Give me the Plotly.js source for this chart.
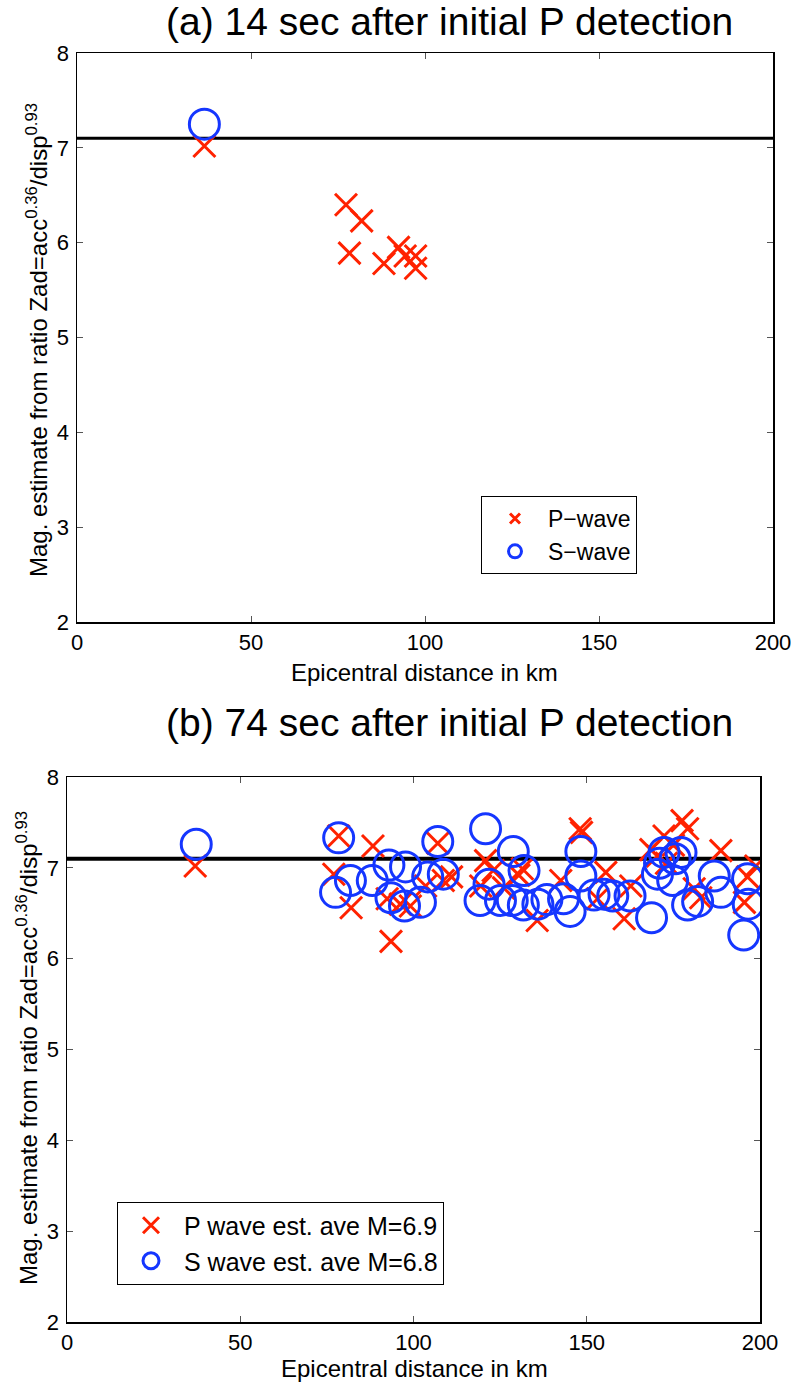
<!DOCTYPE html>
<html>
<head>
<meta charset="utf-8">
<script src="https://cdn.plot.ly/plotly-3.0.1.min.js"></script>
<style>html,body{margin:0;padding:0;background:#fff;}#chart{width:796px;height:1383px;}</style>
</head>
<body>
<div id="chart"></div>
<script>
// ---- Data ----
const titleA = "(a) 14 sec after initial P detection";
const titleB = "(b) 74 sec after initial P detection";
const xTitle = "Epicentral distance in km";
const yTitle = "Mag. estimate from ratio Zad=acc<sup>0.36</sup>/disp<sup>0.93</sup>";
const xTickVals = [0, 50, 100, 150, 200];
const yTickVals = [2, 3, 4, 5, 6, 7, 8];
const refMag = 7.1;
const refDist = [0, 200];

// Panel (a)
const pA_dist = [36.6, 77.3, 81.8, 78.3, 88.2, 92.4, 94.3, 97.3, 97.3];
const pA_mag  = [7.02, 6.40, 6.23, 5.89, 5.78, 5.95, 5.86, 5.86, 5.73];
const sA_dist = [36.6];
const sA_mag  = [7.25];

// Panel (b)
const pB_dist = [37.0, 78.4, 77.0, 82.0, 88.3, 93.5, 92.4, 96.2, 99.1, 103.5, 107.0, 108.6,
                 119.4, 120.8, 123.0, 130.4, 131.4, 135.7, 142.5, 148.1, 148.5, 153.1, 155.5,
                 160.8, 162.7, 168.5, 170.4, 172.3, 175.0, 177.5, 179.1, 181.0, 182.9, 188.7,
                 196.4, 198.8, 195.5, 173.0, 126.0, 111.0];
const pB_mag  = [7.02, 7.35, 6.93, 6.56, 7.24, 6.19, 6.66, 6.60, 6.58, 6.80, 7.27, 6.86,
                 6.80, 7.08, 6.97, 6.92, 6.99, 6.42, 6.86, 7.43, 7.39, 6.66, 6.95,
                 6.44, 6.80, 7.20, 7.13, 7.35, 7.25, 7.52, 7.43, 6.77, 6.67, 7.19,
                 6.90, 7.02, 6.62, 7.05, 6.78, 6.90];
const sB_dist = [37.3, 78.4, 107.0, 120.8, 128.8, 131.9, 92.9, 97.7, 81.8, 88.1, 77.5, 104.1,
                 108.6, 93.5, 97.4, 102.0, 121.8, 119.2, 125.1, 128.5, 131.7, 135.9, 138.5,
                 143.3, 145.2, 148.3, 148.3, 152.1, 155.0, 157.5, 162.5, 168.7, 170.4, 172.3,
                 177.2, 174.8, 179.1, 182.0, 186.8, 188.7, 196.4, 196.6, 195.3, 171.0, 175.5];
const sB_mag  = [7.26, 7.33, 7.29, 7.43, 7.18, 6.97, 7.03, 7.01, 6.86, 6.86, 6.73, 6.90,
                 6.93, 6.67, 6.58, 6.62, 6.82, 6.64, 6.64, 6.64, 6.59, 6.60, 6.65,
                 6.66, 6.52, 7.18, 6.91, 6.70, 6.71, 6.69, 6.69, 6.45, 6.93, 7.17,
                 7.17, 6.86, 6.59, 6.63, 6.91, 6.73, 6.88, 6.60, 6.26, 7.05, 7.10];

const legA = ["P\u2212wave", "S\u2212wave"];
const legB = ["P wave est. ave M=6.9", "S wave est. ave M=6.8"];

// ---- Styling ----
const W = 796, H = 1383;
const RED = "#ff2200", BLUE = "#1536ff";
const FONT = "Liberation Sans, Arial, Helvetica, sans-serif";
const px = v => v / W;
const py = v => 1 - v / H;

function axis(domain, anchor, isX, ticks) {
  return {
    domain: domain, anchor: anchor,
    range: isX ? [0, 200] : [2, 8],
    tickvals: ticks, ticktext: ticks.map(String),
    ticks: "inside", ticklen: 6, tickwidth: 1, tickcolor: "#555",
    showline: true, linecolor: "#000", linewidth: 1.5, mirror: "ticks",
    showgrid: false, zeroline: false,
    tickfont: {family: FONT, size: 22, color: "#000"},
    ticklabelstandoff: isX ? 0 : 2,
    fixedrange: true
  };
}

const crossMarker = {symbol: "x-thin-open", size: 22, color: RED, line: {width: 3, color: RED}};
const circMarker = {symbol: "circle-open", size: 30, color: BLUE, line: {width: 3, color: BLUE}};

const traces = [
  // Panel (a)
  {x: refDist, y: [refMag, refMag], xaxis: "x", yaxis: "y", mode: "lines", line: {color: "#000", width: 3}, showlegend: false, hoverinfo: "skip"},
  {x: pA_dist, y: pA_mag, xaxis: "x", yaxis: "y", mode: "markers", marker: crossMarker, showlegend: false},
  {x: sA_dist, y: sA_mag, xaxis: "x", yaxis: "y", mode: "markers", marker: circMarker, showlegend: false},
  {x: [null], y: [null], xaxis: "x", yaxis: "y", mode: "markers", name: legA[0], legend: "legend",
   marker: {symbol: "x-thin-open", size: 10, color: RED, line: {width: 3, color: RED}}},
  {x: [null], y: [null], xaxis: "x", yaxis: "y", mode: "markers", name: legA[1], legend: "legend",
   marker: {symbol: "circle-open", size: 13, color: BLUE, line: {width: 3, color: BLUE}}},
  // Panel (b)
  {x: refDist, y: [refMag, refMag], xaxis: "x2", yaxis: "y2", mode: "lines", line: {color: "#000", width: 4}, showlegend: false, hoverinfo: "skip"},
  {x: pB_dist, y: pB_mag, xaxis: "x2", yaxis: "y2", mode: "markers", marker: crossMarker, showlegend: false},
  {x: sB_dist, y: sB_mag, xaxis: "x2", yaxis: "y2", mode: "markers", marker: circMarker, showlegend: false},
  {x: [null], y: [null], xaxis: "x2", yaxis: "y2", mode: "markers", name: legB[0], legend: "legend2",
   marker: {symbol: "x-thin-open", size: 16, color: RED, line: {width: 3, color: RED}}},
  {x: [null], y: [null], xaxis: "x2", yaxis: "y2", mode: "markers", name: legB[1], legend: "legend2",
   marker: {symbol: "circle-open", size: 16, color: BLUE, line: {width: 3, color: BLUE}}}
];

function ann(text, x, y, size, angle) {
  return {text: text, x: px(x), y: py(y), xref: "paper", yref: "paper",
          xanchor: "center", yanchor: "middle", showarrow: false, textangle: angle || 0,
          font: {family: FONT, size: size, color: "#000"}};
}

const layout = {
  width: W, height: H,
  margin: {l: 0, r: 0, t: 0, b: 0},
  paper_bgcolor: "#fff", plot_bgcolor: "#fff",
  font: {family: FONT, color: "#000"},
  xaxis: axis([px(77), px(773)], "y", true, xTickVals),
  yaxis: axis([py(622), py(53)], "x", false, yTickVals),
  xaxis2: axis([px(67), px(760)], "y2", true, xTickVals),
  yaxis2: axis([py(1322), py(777)], "x2", false, yTickVals),
  legend: {x: px(481), y: py(535), xanchor: "left", yanchor: "middle",
           bgcolor: "#fff", bordercolor: "#000", borderwidth: 1,
           font: {family: FONT, size: 23, color: "#000"}, itemsizing: "trace",
           tracegroupgap: 0, itemwidth: 56},
  legend2: {x: px(117), y: py(1243), xanchor: "left", yanchor: "middle",
           bgcolor: "#fff", bordercolor: "#000", borderwidth: 1,
           font: {family: FONT, size: 25, color: "#000"}, itemsizing: "trace",
           tracegroupgap: 0, itemwidth: 56},
  annotations: [
    ann(titleA, 450, 22, 39),
    ann(titleB, 450, 722, 39),
    ann(xTitle, 425, 672, 24),
    ann(xTitle, 414, 1368, 24),
    ann(yTitle, 37, 340, 24, -90),
    ann(yTitle, 27, 1048, 24, -90)
  ],
  showlegend: true
};

Plotly.newPlot("chart", traces, layout, {staticPlot: true, displayModeBar: false});
</script>
</body>
</html>
